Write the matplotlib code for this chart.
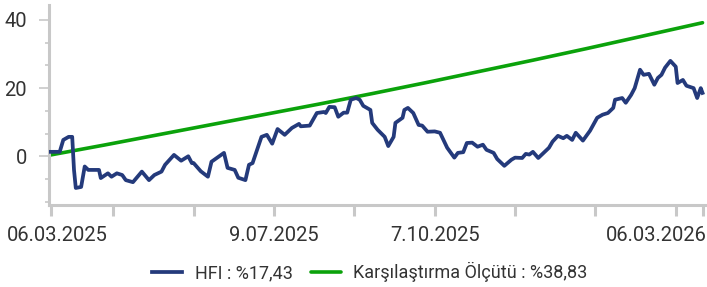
import matplotlib
matplotlib.use("Agg")
import matplotlib.pyplot as plt
import matplotlib.transforms as mtransforms
import pandas as pd

# days since 06.03.2025 and cumulative return (%)
hfi_days = [0, 2, 5, 7, 10, 12, 13, 14, 17, 19, 21, 27, 28, 32, 34, 37, 40, 42, 46,
            51, 55, 58, 62, 64, 69, 73, 77, 79, 80, 84, 88, 90, 97, 99, 103, 105, 109,
            111, 113, 118, 121, 124, 127, 131, 135, 139, 140, 145, 149, 153, 154, 156,
            159, 161, 164, 166, 168, 171, 173, 175, 179, 180, 183, 187, 189, 192, 193,
            197, 198, 200, 203, 206, 208, 211, 215, 218, 222, 226, 228, 231, 233, 236,
            239, 242, 244, 248, 250, 254, 258, 260, 264, 266, 268, 270, 273, 279, 281,
            284, 287, 289, 292, 294, 298, 302, 306, 309, 312, 315, 316, 320, 322, 325,
            327, 330, 332, 335, 338, 340, 342, 344, 347, 350, 351, 354, 356, 360, 362,
            364, 365]
hfi_vals = [1.3, 1.3, 1.3, 4.8, 5.7, 5.7, -4.0, -9.3, -9.0, -3.0, -4.0, -4.0, -6.4,
            -5.0, -6.0, -5.0, -5.5, -7.0, -7.6, -4.5, -7.0, -5.5, -4.5, -2.5, 0.4, -1.3,
            0.0, -2.0, -2.0, -4.4, -6.0, -1.6, 1.0, -3.4, -4.0, -6.3, -7.0, -2.5, -2.0,
            5.7, 6.3, 3.7, 8.0, 6.3, 8.3, 9.5, 8.8, 9.0, 12.7, 13.0, 12.7, 14.5, 14.4,
            11.6, 12.8, 12.8, 16.6, 17.1, 16.6, 14.8, 13.6, 9.8, 7.8, 5.7, 3.0, 5.7,
            9.8, 11.3, 13.6, 14.2, 12.7, 9.2, 9.0, 7.2, 7.3, 6.9, 2.5, -0.4, 1.0, 1.2,
            3.9, 4.0, 2.8, 3.4, 1.9, 1.0, -0.8, -2.8, -1.0, -0.4, -0.5, 0.7, 0.5, 1.3,
            -0.5, 2.5, 4.3, 6.0, 5.3, 6.0, 4.8, 6.9, 4.6, 7.5, 11.3, 12.2, 12.7, 14.2,
            16.6, 17.1, 15.7, 18.0, 20.0, 25.4, 23.9, 24.2, 21.0, 23.0, 23.9, 26.0,
            28.0, 26.3, 21.5, 22.4, 20.7, 20.0, 17.1, 20.0, 18.6]

bench_days = [0, 30, 60, 90, 120, 150, 180, 210, 240, 270, 300, 330, 365]
bench_vals = [0.4, 3.3, 6.3, 9.3, 12.3, 15.3, 18.4, 21.6, 24.9, 28.2, 31.6, 35.1, 39.2]

tick_dates = ["2025-03-06", "2025-04-10", "2025-05-25", "2025-07-09", "2025-08-23",
              "2025-10-07", "2025-11-21", "2026-01-05", "2026-02-19", "2026-03-06"]
tick_labels = ["06.03.2025", "", "", "9.07.2025", "", "7.10.2025", "", "", "", "06.03.2026"]

start = pd.Timestamp("2025-03-06")
hfi_x = start + pd.to_timedelta(hfi_days, unit="D")
bench_x = start + pd.to_timedelta(bench_days, unit="D")

navy = "#243a7b"
green = "#0ba20b"
grey = "#c8c8c8"
txt = "#333333"

plt.rcParams["font.family"] = ["Roboto", "DejaVu Sans"]

fig = plt.figure(figsize=(7.07, 2.87), dpi=100)
ax = fig.add_axes([49 / 707, 1 - 205 / 287, 658 / 707, 200 / 287])

ax.plot(bench_x, bench_vals, color=green, lw=2.6, solid_capstyle="round",
        label="Karşılaştırma Ölçütü : %38,83", zorder=2)
ax.plot(hfi_x, hfi_vals, color=navy, lw=2.7, solid_joinstyle="round",
        label="HFI : %17,43", zorder=3)

ax.set_xlim(start - pd.Timedelta(days=1), start + pd.Timedelta(days=367.5))
ax.set_ylim(-14.3, 44.4)

ax.set_yticks([0, 20, 40])
ax.set_yticks([-13.33, -6.67, 6.67, 13.33, 26.67, 33.33], minor=True)
ax.tick_params(axis="y", which="major", length=7, width=1.2, color=grey,
               labelsize=14.5, labelcolor=txt, pad=9)
ax.tick_params(axis="y", which="minor", length=3, width=1.2, color=grey)

ax.set_xticks(pd.to_datetime(tick_dates))
ax.set_xticklabels(tick_labels)
ax.tick_params(axis="x", length=8, width=2.2, color=grey, labelsize=14.5,
               labelcolor=txt, pad=7)

for side in ["top", "right"]:
    ax.spines[side].set_visible(False)
for side in ["left", "bottom"]:
    ax.spines[side].set_color(grey)
    ax.spines[side].set_linewidth(2.2)

# keep first and last date labels inside the figure
labels = ax.get_xticklabels()
labels[0].set_ha("left")
labels[0].set_transform(labels[0].get_transform() +
                        mtransforms.ScaledTranslation(-44 / 100, 0, fig.dpi_scale_trans))
labels[-1].set_ha("right")
labels[-1].set_transform(labels[-1].get_transform() +
                         mtransforms.ScaledTranslation(4 / 100, 0, fig.dpi_scale_trans))

handles, names = ax.get_legend_handles_labels()
fig.legend(handles[::-1], names[::-1], loc="center", bbox_to_anchor=(370 / 707, 1 - 272 / 287),
           ncol=2, frameon=False, fontsize=13, labelcolor=txt, handlelength=1.65,
           handletextpad=0.7, columnspacing=1.0)

fig.savefig("out.png", dpi=100)
